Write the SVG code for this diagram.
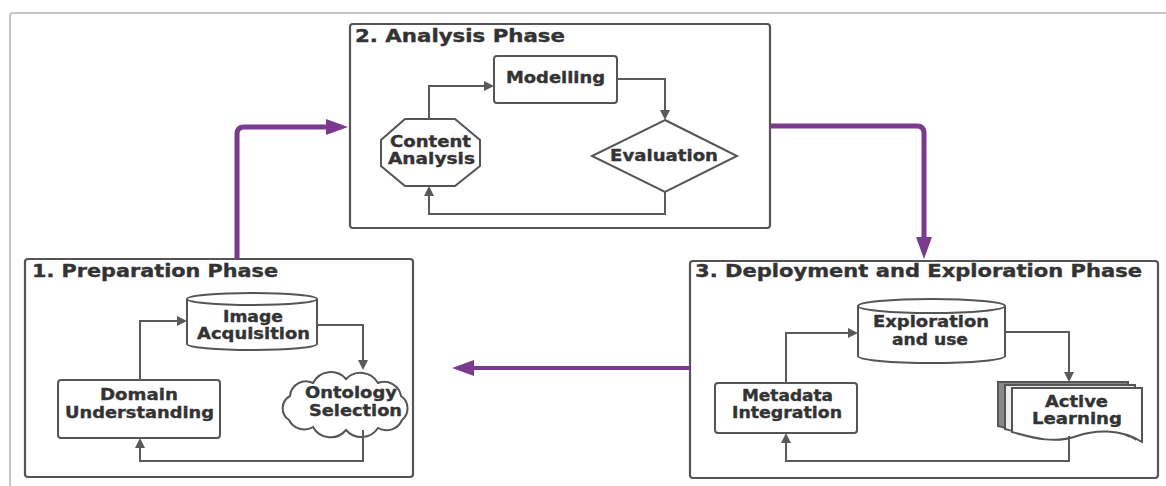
<svg xmlns="http://www.w3.org/2000/svg" width="1166" height="486" viewBox="0 0 1166 486">
<defs>
<style>
.frame{fill:none;stroke:#c4c4c4;stroke-width:2}
.phase{fill:#fff;stroke:#555;stroke-width:2.2}
.node{fill:#fff;stroke:#555;stroke-width:2}
.t{font-family:"DejaVu Sans","Liberation Sans",sans-serif;font-weight:bold;fill:#333;stroke:#333;stroke-width:0.35}
.title{font-size:17px}
.lbl{font-size:15px}
.con{fill:none;stroke:#5a5a5a;stroke-width:2}
.pcon{fill:none;stroke:#7B3A8E;stroke-width:5;stroke-linejoin:round}
</style>
<marker id="ga" markerWidth="10" markerHeight="10" refX="1" refY="5" orient="auto" markerUnits="userSpaceOnUse">
<path d="M0,0 L10,5 L0,10 Z" fill="#5a5a5a"/>
</marker>
<marker id="pa" markerWidth="22" markerHeight="16" refX="2" refY="8" orient="auto" markerUnits="userSpaceOnUse">
<path d="M0,0 L22,8 L0,16 Z" fill="#7B3A8E"/>
</marker>
</defs>
<rect width="1166" height="486" fill="#fff"/>
<path class="frame" d="M10,486 V16 Q10,13 13,13 H1166"/>

<g id="phase1">
<rect class="phase" x="25" y="259" width="388" height="218" rx="3"/>
<text class="t title" x="32" y="277" textLength="246" lengthAdjust="spacingAndGlyphs">1. Preparation Phase</text>
</g>
<g id="phase2">
<rect class="phase" x="350" y="24" width="420" height="204" rx="3"/>
<text class="t title" x="355" y="42" textLength="210" lengthAdjust="spacingAndGlyphs">2. Analysis Phase</text>
</g>
<g id="phase3">
<rect class="phase" x="690" y="261" width="468" height="217" rx="3"/>
<text class="t title" x="695" y="277" textLength="447" lengthAdjust="spacingAndGlyphs">3. Deployment and Exploration Phase</text>
</g>

<g id="image-acquisition">
<path class="node" d="M187,299 A65,6 0 0 1 317,299 V344 A65,6 0 0 1 187,344 Z"/>
<path class="node" d="M187,299 A65,6 0 0 0 317,299"/>
<text class="t lbl" x="223" y="322" textLength="60" lengthAdjust="spacingAndGlyphs">Image</text>
<text class="t lbl" x="197" y="339" textLength="113" lengthAdjust="spacingAndGlyphs">Acquisition</text>
</g>
<g id="domain-understanding">
<rect class="node" x="58" y="380" width="162" height="58" rx="3"/>
<text class="t lbl" x="100" y="400" textLength="78" lengthAdjust="spacingAndGlyphs">Domain</text>
<text class="t lbl" x="65" y="418" textLength="149" lengthAdjust="spacingAndGlyphs">Understanding</text>
</g>
<g id="ontology-selection">
<path class="node" d="M290,396 A16,16 0 0 1 313,383 A20,20 0 0 1 346,379 A20,20 0 0 1 378,383 A17,17 0 0 1 401,396 A15,15 0 0 1 402,420 A17,17 0 0 1 378,428 A20,20 0 0 1 346,430 A20,20 0 0 1 313,427 A17,17 0 0 1 289,420 A14,14 0 0 1 290,396 Z"/>
<text class="t lbl" x="305" y="398" textLength="92" lengthAdjust="spacingAndGlyphs">Ontology</text>
<text class="t lbl" x="309" y="416" textLength="93" lengthAdjust="spacingAndGlyphs">Selection</text>
</g>

<g id="modelling">
<rect class="node" x="494" y="56" width="123" height="47" rx="3"/>
<text class="t lbl" x="506" y="83" textLength="99" lengthAdjust="spacingAndGlyphs">Modelling</text>
</g>
<g id="content-analysis">
<polygon class="node" points="405,119 455,119 480,140 480,166 455,186 405,186 381,166 381,140"/>
<text class="t lbl" x="390" y="147" textLength="81" lengthAdjust="spacingAndGlyphs">Content</text>
<text class="t lbl" x="388" y="164" textLength="87" lengthAdjust="spacingAndGlyphs">Analysis</text>
</g>
<g id="evaluation">
<polygon class="node" points="665,120 737,156 665,192 592,156"/>
<text class="t lbl" x="610" y="161" textLength="108" lengthAdjust="spacingAndGlyphs">Evaluation</text>
</g>

<g id="exploration-and-use">
<path class="node" d="M858,306 A73.5,7 0 0 1 1005,306 V356 A73.5,7 0 0 1 858,356 Z"/>
<path class="node" d="M858,306 A73.5,7 0 0 0 1005,306"/>
<text class="t lbl" x="873" y="327" textLength="116" lengthAdjust="spacingAndGlyphs">Exploration</text>
<text class="t lbl" x="892" y="345" textLength="76" lengthAdjust="spacingAndGlyphs">and use</text>
</g>
<g id="metadata-integration">
<rect class="node" x="715" y="383" width="142" height="50" rx="3"/>
<text class="t lbl" x="742" y="401" textLength="91" lengthAdjust="spacingAndGlyphs">Metadata</text>
<text class="t lbl" x="732" y="418" textLength="110" lengthAdjust="spacingAndGlyphs">Integration</text>
</g>
<g id="active-learning">
<path class="node" d="M998,382 H1128 V436 C1106,422 1080,424 1063,430 C1040,438 1020,432 998,426 Z" style="fill:#8a8a8a"/>
<path class="node" d="M1005,385 H1135 V439 C1113,425 1087,427 1070,433 C1047,441 1027,435 1005,429 Z" style="fill:#eee"/>
<path class="node" d="M1012,388 H1142 V442 C1120,428 1094,430 1077,436 C1054,444 1034,438 1012,432 Z"/>
<text class="t lbl" x="1045" y="407" textLength="63" lengthAdjust="spacingAndGlyphs">Active</text>
<text class="t lbl" x="1032" y="424" textLength="90" lengthAdjust="spacingAndGlyphs">Learning</text>
</g>

<g id="connectors">
<path class="con" marker-end="url(#ga)" d="M140,380 V321 H178"/>
<path class="con" marker-end="url(#ga)" d="M317,325 H363 V361"/>
<path class="con" marker-end="url(#ga)" d="M363,430 V461 H140 V447"/>
<path class="con" marker-end="url(#ga)" d="M429,119 V86 H485"/>
<path class="con" marker-end="url(#ga)" d="M617,79 H665 V111"/>
<path class="con" marker-end="url(#ga)" d="M665,192 V214 H429 V195"/>
<path class="con" marker-end="url(#ga)" d="M786,383 V333 H849"/>
<path class="con" marker-end="url(#ga)" d="M1005,332 H1069 V373"/>
<path class="con" marker-end="url(#ga)" d="M1069,436 V461 H786 V442"/>
<path class="pcon" marker-end="url(#pa)" d="M237,259 V134 Q237,127 244,127 H328"/>
<path class="pcon" marker-end="url(#pa)" d="M770,126 H917 Q924,126 924,133 V239"/>
<path class="pcon" style="stroke-width:4" marker-end="url(#pa)" d="M690,368 H472"/>
</g>
</svg>
